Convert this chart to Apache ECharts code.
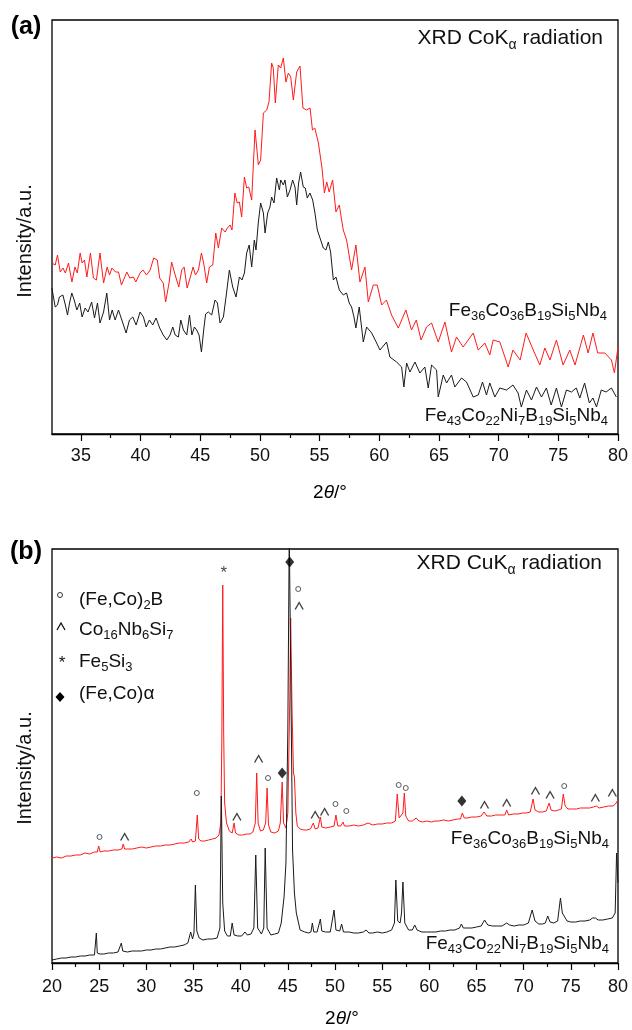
<!DOCTYPE html>
<html>
<head>
<meta charset="utf-8">
<script src="https://cdn.jsdelivr.net/npm/echarts@6/dist/echarts.min.js"></script>
<style>html,body{margin:0;padding:0;background:#fff}#c{width:632px;height:1030px}</style>
</head>
<body>
<div id="c"></div>
<script>
// ---------- DATA ----------
// Panel (a): XRD CoKα, amorphous ribbons (intensity in a.u.)
const topAngleRed = [32.57,32.85,33.04,33.27,33.5,33.7,33.96,34.25,34.5,34.7,34.94,35.1,35.3,35.5,35.8,36.05,36.3,36.6,36.9,37.2,37.4,37.6,37.9,38.15,38.4,38.85,39.1,39.4,39.6,39.96,40.2,40.5,40.8,41.1,41.4,41.6,41.9,42.1,42.4,42.6,42.9,43.2,43.45,43.65,43.9,44.15,44.4,44.6,44.85,45.1,45.3,45.54,45.77,46.05,46.3,46.52,46.8,47.08,47.27,47.5,47.66,47.9,48.1,48.28,48.47,48.7,48.89,49.06,49.31,49.59,49.87,50.06,50.29,50.57,50.76,50.98,51.12,51.29,51.54,51.74,51.96,52.18,52.38,52.58,52.8,53.08,53.36,53.6,53.9,54.2,54.4,54.6,54.9,55.2,55.4,55.6,55.8,56.09,56.37,56.65,56.98,57.26,57.68,58.04,58.38,58.8,59.08,59.5,59.83,60.2,60.6,61.03,61.59,62.23,62.7,63.1,63.5,63.96,64.38,64.94,65.5,66.05,66.47,67.03,67.87,68.29,68.84,69.26,69.54,70.1,70.8,71.2,71.8,72.3,72.9,73.45,73.87,74.3,74.84,75.4,75.96,76.4,77.1,77.5,77.9,78.3,78.9,79.45,79.7,80.0];
const topRed = [171,169,179,162,166,161,171,152,167,161,181,171,174,157,181,156,154,181,151,167,159,166,162,162,149,162,156,157,152,161,164,159,164,176,174,156,151,132,152,172,159,147,164,167,146,156,167,159,164,181,170,151,167,169,201,186,206,202,206,209,204,241,231,232,217,257,246,247,234,304,269,274,321,324,332,371,366,331,369,366,376,352,361,357,334,362,368,326,324,326,304,306,291,266,241,252,242,254,222,229,204,194,164,189,152,167,132,149,149,129,134,119,106,124,104,114,94,107,111,92,112,82,97,87,101,84,91,79,94,92,67,84,74,101,84,69,86,74,94,69,84,69,99,81,101,81,81,74,61,87];
const topAngleBlack = [32.57,32.85,33.04,33.2,33.49,33.7,33.88,34.05,34.24,34.44,34.66,34.9,35.1,35.36,35.6,35.9,36.14,36.39,36.6,36.9,37.17,37.4,37.62,37.87,38.15,38.43,38.79,39.07,39.35,39.63,39.96,40.24,40.47,40.74,41.02,41.3,41.6,41.9,42.2,42.47,42.7,42.9,43.17,43.37,43.59,43.87,44.1,44.3,44.51,44.7,44.9,45.1,45.3,45.45,45.68,45.96,46.24,46.44,46.66,46.94,47.16,47.44,47.72,48.0,48.28,48.5,48.7,48.89,49.1,49.31,49.53,49.67,49.87,50.06,50.29,50.43,50.65,50.84,50.98,51.18,51.4,51.63,51.74,51.96,52.1,52.3,52.52,52.74,52.94,53.08,53.24,53.41,53.63,53.8,53.97,54.19,54.42,54.61,54.81,55.09,55.31,55.53,55.73,55.92,56.15,56.37,56.65,56.98,57.26,57.48,57.68,57.88,58.04,58.32,58.66,58.94,59.36,59.78,60.06,60.61,60.89,61.45,61.87,62.06,62.29,62.57,62.99,63.4,63.82,64.1,64.38,64.8,64.94,65.36,65.64,66.05,66.33,66.89,67.31,67.87,68.29,68.65,68.98,69.26,69.68,70.1,70.66,71.2,71.63,71.9,72.33,72.75,73.17,73.59,74.0,74.4,74.84,75.26,75.68,76.1,76.5,76.8,77.2,77.6,77.9,78.2,78.6,79.0,79.45,79.86];
const topBlack = [146,127,129,137,139,129,119,131,141,134,124,131,117,126,122,132,116,131,111,122,141,114,124,114,124,114,101,114,117,109,122,117,107,114,109,116,106,99,94,99,107,99,97,114,104,99,119,99,107,104,99,82,105,120,122,119,134,131,111,117,137,164,147,137,157,154,161,181,189,167,194,184,212,231,221,201,221,227,237,231,256,244,254,249,254,237,244,254,247,229,251,262,247,246,236,241,234,221,204,194,186,184,192,182,154,157,144,139,141,131,127,117,106,127,92,107,101,91,84,92,77,72,67,47,71,62,72,61,67,46,69,64,37,59,51,59,47,56,52,37,39,52,39,51,37,46,44,49,41,27,44,34,47,37,46,29,46,27,44,42,46,36,51,31,36,27,44,42,46,37];

// Panel (b): XRD CuKα, annealed (crystallised) samples
const botAngleRed = [20.0,20.5,21.0,21.5,22.0,22.5,23.0,23.5,24.0,24.5,24.8,24.95,25.1,25.5,26.0,26.5,27.0,27.4,27.55,27.7,28.0,28.5,29.0,29.5,30.0,30.5,31.0,31.5,32.0,32.5,33.0,33.5,34.0,34.5,34.75,34.9,35.2,35.4,35.55,35.8,36.2,36.6,37.0,37.4,37.7,37.9,38.0,38.1,38.2,38.3,38.5,38.8,39.1,39.3,39.45,39.8,40.2,40.6,41.0,41.3,41.55,41.7,41.85,42.1,42.4,42.65,42.8,42.95,43.2,43.6,44.0,44.2,44.4,44.55,44.8,45.0,45.2,45.3,45.45,45.6,45.7,45.85,46.0,46.3,46.7,47.0,47.4,47.7,47.9,48.2,48.45,48.6,49.0,49.5,49.9,50.1,50.3,50.6,50.85,51.0,51.5,52.0,52.5,53.0,53.5,54.0,54.5,55.0,55.5,56.0,56.4,56.6,56.8,57.0,57.2,57.35,57.5,57.8,58.2,58.6,58.9,59.3,59.7,60.2,60.6,61.0,61.5,62.0,62.5,63.0,63.3,63.5,63.7,64.0,64.5,65.0,65.5,65.8,66.1,66.6,67.0,67.5,68.0,68.2,68.4,68.9,69.4,69.9,70.3,70.7,71.0,71.2,71.6,72.0,72.4,72.7,72.9,73.3,73.7,74.0,74.2,74.4,74.7,75.1,75.6,76.0,76.5,77.0,77.4,77.7,78.0,78.5,79.0,79.5,79.8,80.0];
const botRed = [105,106,105,107,107,108,108,110,109,111,111,117,111,112,112,113,113,114,119,114,114,114,115,116,115,116,117,117,118,118,119,120,120,121,124,121,122,148,124,122,122,123,124,125,128,140,220,378,230,160,140,132,130,140,130,128,128,129,129,131,140,190,140,132,133,140,175,138,131,130,132,140,181,140,135,150,260,345,250,190,186,150,137,134,133,133,134,140,134,135,146,136,135,136,137,148,137,137,141,137,137,138,137,138,140,138,139,139,140,140,142,169,145,145,150,170,147,142,142,145,142,141,142,141,142,142,143,142,143,144,144,150,145,145,146,146,147,151,147,147,148,148,148,153,148,149,149,150,150,151,164,153,151,151,152,160,153,152,153,154,169,157,154,154,154,155,155,155,156,157,155,156,157,157,160,163];
const botAngleBlack = [20.0,20.5,21.0,21.5,22.0,22.5,23.0,23.5,24.0,24.5,24.6,24.7,24.8,25.1,25.5,26.0,26.5,27.0,27.2,27.35,27.5,28.0,28.5,29.0,29.5,30.0,30.5,31.0,31.5,32.0,32.5,33.0,33.5,34.0,34.4,34.7,34.9,35.05,35.2,35.35,35.6,36.0,36.5,37.0,37.5,37.8,37.95,38.1,38.3,38.6,38.9,39.1,39.3,39.7,40.1,40.45,40.7,41.1,41.4,41.6,41.8,42.2,42.45,42.6,42.8,43.2,43.6,44.0,44.3,44.6,44.8,45.0,45.15,45.3,45.5,45.7,45.9,46.3,46.8,47.2,47.45,47.6,47.75,48.1,48.45,48.6,49.0,49.5,49.9,50.1,50.5,50.7,50.9,51.5,52.0,52.5,53.0,53.3,53.6,54.0,54.5,55.0,55.5,56.0,56.3,56.45,56.65,56.9,57.05,57.2,57.4,57.8,58.2,58.45,58.7,59.2,59.7,60.2,60.7,61.2,61.7,62.2,62.7,63.2,63.4,63.6,64.0,64.5,65.0,65.5,65.85,66.2,66.7,67.2,67.7,68.2,68.5,69.0,69.5,70.0,70.5,70.9,71.2,71.6,72.0,72.3,72.55,72.8,73.2,73.6,73.9,74.1,74.3,74.6,75.0,75.5,76.0,76.5,77.0,77.3,77.6,77.9,78.4,78.9,79.4,79.7,79.85,80.0];
const botBlack = [3,4,5,5,6,6,7,7,8,8,9,30,10,9,9,10,10,11,12,20,12,11,12,12,12,13,13,14,14,15,16,16,17,18,20,31,24,30,78,32,25,23,24,24,25,35,167,60,32,27,27,40,28,27,27,31,28,29,35,108,35,29,35,115,35,28,29,30,40,66,100,233,430,300,113,70,50,33,31,30,31,40,31,31,44,32,31,31,53,33,32,39,31,31,30,30,31,33,30,30,31,30,31,33,40,83,42,40,50,81,40,33,33,38,33,31,31,31,31,32,32,33,33,35,39,35,35,35,36,37,43,38,37,37,37,40,38,37,38,38,40,53,42,39,39,40,47,41,40,42,65,50,48,42,41,41,42,42,43,45,45,43,43,44,45,50,110,80];

// Phase markers above the red pattern in (b)
const circleAngle = [25.04,35.35,42.9,46.1,50.05,51.2,56.75,57.5,74.3];
const circleY = [126,170,185,374,159,152,178,175,177];
const caretAngle = [27.7,39.6,41.9,46.2,47.9,48.9,65.85,68.2,71.25,72.8,77.6,79.4];
const caretY = [126,146,204,357,148,151,158,160,172,168,165,170];
const starAngle = [38.2];
const starY = [394];
const diamondAngle = [44.4,45.2,63.45];
const diamondY = [190,401,162];

// Tick labels
const topMajorTicks = [35,40,45,50,55,60,65,70,75,80];
const topMinorTicks = [37.5,42.5,47.5,52.5,57.5,62.5,67.5,72.5,77.5];
const botMajorTicks = [20,25,30,35,40,45,50,55,60,65,70,75,80];
const botMinorTicks = [22.5,27.5,32.5,37.5,42.5,47.5,52.5,57.5,62.5,67.5,72.5,77.5];

// Text
const alloyA = [['Fe','36'],['Co','36'],['B','19'],['Si','5'],['Nb','4']];
const alloyB = [['Fe','43'],['Co','22'],['Ni','7'],['B','19'],['Si','5'],['Nb','4']];
const legendItems = [
  [['(Fe,Co)','2'],['B','']],
  [['Co','16'],['Nb','6'],['Si','7']],
  [['Fe','5'],['Si','3']],
  [['(Fe,Co)α','']]
];

// ---------- CHART ----------
const FONT = '"Liberation Sans", Arial, Helvetica, sans-serif';
const INK = '#111';
const pairs = (xs, ys) => xs.map((x, i) => [x, ys[i]]);
const formula = parts => parts.map(p => '{m|' + p[0] + '}' + (p[1] ? '{s|' + p[1] + '}' : '')).join('');
const richSet = (big, small) => ({
  m: {fontSize: big, lineHeight: Math.round(big * 1.15), verticalAlign: 'top', fontFamily: FONT, color: INK},
  s: {fontSize: small, lineHeight: small + 1, verticalAlign: 'bottom', fontFamily: FONT, color: INK}
});
const rich19 = richSet(19, 13);
const rich21 = richSet(21, 14);

function richText(x, y, text, rich, align) {
  return {type: 'text', x: x, y: y, silent: true,
    style: {text: text, rich: rich, align: align || 'left', verticalAlign: 'middle', fontFamily: FONT, fill: INK}};
}
function plainText(x, y, text, size, opts) {
  return Object.assign({type: 'text', x: x, y: y, silent: true,
    style: {text: text, fontSize: size, fontFamily: FONT, fill: INK, align: 'center', verticalAlign: 'middle'}}, opts || {});
}
const thetaRich = {
  n: {fontSize: 19, fontFamily: FONT, color: INK},
  i: {fontSize: 19, fontFamily: FONT, fontStyle: 'italic', color: INK}
};

const gridBase = {left: 52, width: 566, height: 414, show: true, borderColor: '#000', borderWidth: 1.3, backgroundColor: 'transparent'};

function majorAxis(gridIndex, min, ticks, margin) {
  return {type: 'value', gridIndex: gridIndex, position: 'bottom', min: min, max: 80,
    axisLine: {show: true, onZero: false, lineStyle: {color: '#000', width: 1.3}},
    axisTick: {show: true, length: 7, customValues: ticks, lineStyle: {color: '#000', width: 1.2}},
    axisLabel: {show: true, customValues: ticks, margin: margin, fontSize: 18, fontFamily: FONT, color: INK},
    splitLine: {show: false}};
}
function minorAxis(gridIndex, min, ticks) {
  return {type: 'value', gridIndex: gridIndex, position: 'bottom', offset: 0, min: min, max: 80,
    axisLine: {show: false},
    axisTick: {show: true, length: 4, customValues: ticks, lineStyle: {color: '#000', width: 1.2}},
    axisLabel: {show: false},
    splitLine: {show: false}};
}
function hiddenY(gridIndex) {
  return {type: 'value', gridIndex: gridIndex, min: 0, max: 414,
    axisLine: {show: false}, axisTick: {show: false}, axisLabel: {show: false}, splitLine: {show: false}};
}
function lineSeries(x, y, data, color) {
  return {type: 'line', xAxisIndex: x, yAxisIndex: y, data: data, showSymbol: false, symbol: 'none',
    clip: true, lineStyle: {color: color, width: 1}, z: 3, animation: false};
}

const option = {
  animation: false,
  backgroundColor: '#fff',
  grid: [Object.assign({top: 20}, gridBase), Object.assign({top: 549}, gridBase)],
  xAxis: [majorAxis(0, 32.58, topMajorTicks, 13), minorAxis(0, 32.58, topMinorTicks),
          majorAxis(1, 20, botMajorTicks, 15), minorAxis(1, 20, botMinorTicks)],
  yAxis: [hiddenY(0), hiddenY(1)],
  series: [
    lineSeries(0, 0, pairs(topAngleRed, topRed), '#ff1a1a'),
    lineSeries(0, 0, pairs(topAngleBlack, topBlack), '#1a1a1a'),
    lineSeries(2, 1, pairs(botAngleRed, botRed), '#ff1a1a'),
    lineSeries(2, 1, pairs(botAngleBlack, botBlack), '#1a1a1a'),
    {type: 'scatter', xAxisIndex: 2, yAxisIndex: 1, data: pairs(circleAngle, circleY), symbol: 'circle', symbolSize: 5,
      itemStyle: {color: '#fff', borderColor: '#333', borderWidth: 1}, z: 5, silent: true},
    {type: 'scatter', xAxisIndex: 2, yAxisIndex: 1, data: pairs(caretAngle, caretY), symbol: 'path://M0,8L4.5,0L9,8', symbolSize: [8, 7],
      itemStyle: {color: 'rgba(0,0,0,0)', borderColor: '#111', borderWidth: 1.3}, z: 5, silent: true},
    {type: 'scatter', xAxisIndex: 2, yAxisIndex: 1, data: pairs(diamondAngle, diamondY), symbol: 'diamond', symbolSize: [9, 11],
      itemStyle: {color: '#000'}, z: 5, silent: true},
    {type: 'scatter', xAxisIndex: 2, yAxisIndex: 1, data: pairs(starAngle, starY), symbol: 'circle', symbolSize: 1,
      itemStyle: {color: 'rgba(0,0,0,0)'}, z: 5, silent: true,
      label: {show: true, position: 'inside', formatter: '*', fontSize: 17, fontFamily: FONT, color: INK, offset: [0, 4]}}
  ],
  graphic: [
    plainText(26, 27, '(a)', 25, {style: {text: '(a)', fontSize: 25, fontWeight: 'bold', fontFamily: FONT, fill: '#000', align: 'center', verticalAlign: 'middle'}}),
    plainText(26, 552, '(b)', 25, {style: {text: '(b)', fontSize: 25, fontWeight: 'bold', fontFamily: FONT, fill: '#000', align: 'center', verticalAlign: 'middle'}}),
    plainText(25, 241, 'Intensity/a.u.', 20, {rotation: Math.PI / 2}),
    plainText(25, 768, 'Intensity/a.u.', 20, {rotation: Math.PI / 2}),
    {type: 'text', x: 330, y: 493, silent: true, style: {text: '{n|2}{i|θ}{n|/°}', rich: thetaRich, align: 'center', verticalAlign: 'middle'}},
    {type: 'text', x: 342, y: 1019, silent: true, style: {text: '{n|2}{i|θ}{n|/°}', rich: thetaRich, align: 'center', verticalAlign: 'middle'}},
    richText(603, 40, '{m|XRD CoK}{s|α}{m| radiation}', rich21, 'right'),
    richText(602, 565, '{m|XRD CuK}{s|α}{m| radiation}', rich21, 'right'),
    richText(607, 312, formula(alloyA), rich19, 'right'),
    richText(608, 417, formula(alloyB), rich19, 'right'),
    richText(609, 840, formula(alloyA), rich19, 'right'),
    richText(609, 945, formula(alloyB), rich19, 'right'),
    // legend keys for the phase markers in (b)
    {type: 'circle', silent: true, shape: {cx: 60, cy: 595, r: 2.5}, style: {fill: '#fff', stroke: '#333', lineWidth: 1}},
    {type: 'polyline', silent: true, shape: {points: [[57, 630], [61, 623], [65, 630]]}, style: {fill: null, stroke: '#111', lineWidth: 1.3}},
    plainText(62, 663, '*', 17),
    {type: 'polygon', silent: true, shape: {points: [[60, 692], [64.5, 697], [60, 702], [55.5, 697]]}, style: {fill: '#000'}},
    richText(79, 601, formula(legendItems[0]), rich19, 'left'),
    richText(79, 631, formula(legendItems[1]), rich19, 'left'),
    richText(79, 663, formula(legendItems[2]), rich19, 'left'),
    richText(79, 695, formula(legendItems[3]), rich19, 'left')
  ]
};

const chart = echarts.init(document.getElementById('c'), null, {renderer: 'canvas'});
chart.setOption(option);
</script>
</body>
</html>
